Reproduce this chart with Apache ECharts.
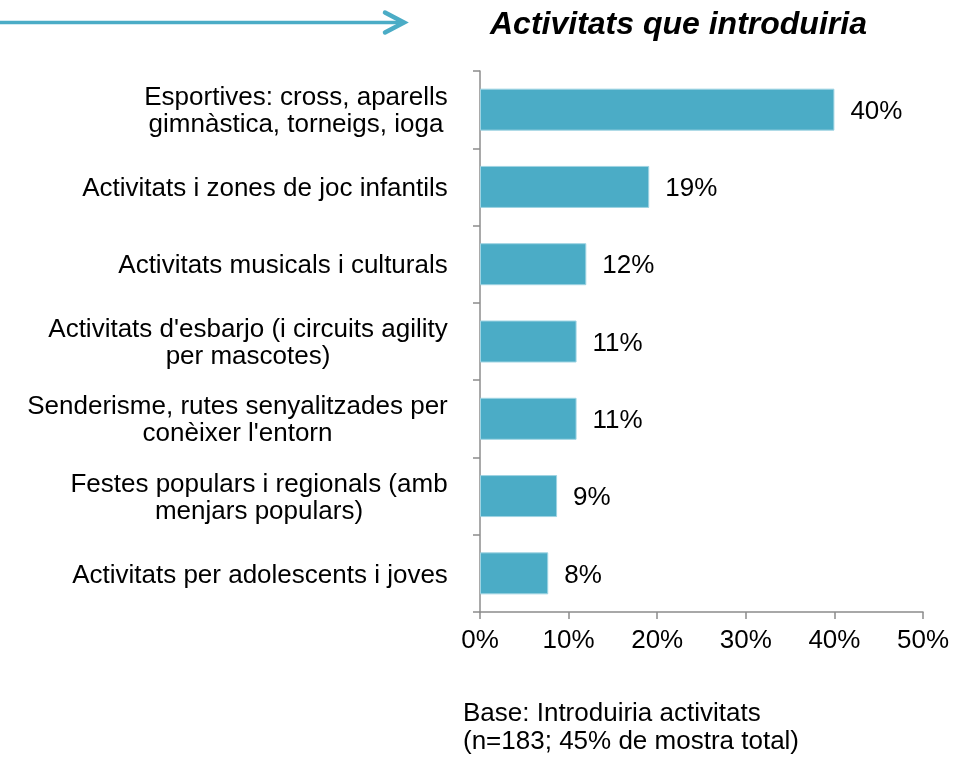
<!DOCTYPE html>
<html>
<head>
<meta charset="utf-8">
<script src="https://cdn.jsdelivr.net/npm/echarts@6/dist/echarts.min.js"></script>
<style>
  html, body { margin: 0; padding: 0; background: #fff; }
  #chart { width: 961px; height: 759px; }
</style>
</head>
<body>
<div id="chart"></div>
<script>
// dades del gràfic
const categories = [
    'Esportives: cross, aparells\ngimnàstica, torneigs, ioga',
    'Activitats i zones de joc infantils',
    'Activitats musicals i culturals',
    "Activitats d'esbarjo (i circuits agility\nper mascotes)",
    'Senderisme, rutes senyalitzades per\nconèixer l\'entorn',
    'Festes populars i regionals (amb\nmenjars populars)',
    'Activitats per adolescents i joves'
];
const values = [40.0, 19.1, 12.0, 10.9, 10.9, 8.7, 7.7];
const xTicks = [0, 10, 20, 30, 40, 50];
const titleText = 'Activitats que introduiria';
const baseText = ['Base: Introduiria activitats', '(n=183; 45% de mostra total)'];

const FONT = '"Liberation Sans", Arial, sans-serif';
const barColor = '#4BACC6';
const axisColor = '#8c8c8c';

// mesura de les etiquetes per centrar les línies dins del bloc
const ctx = document.createElement('canvas').getContext('2d');
ctx.font = '26px ' + FONT;
const rich = {};
categories.forEach((c, i) => {
    const lines = c.split('\n');
    const w = Math.max(...lines.map(l => ctx.measureText(l).width));
    rich['c' + i] = {
        width: Math.ceil(w), align: 'center',
        fontSize: 26, lineHeight: 27, fontFamily: FONT, color: '#000'
    };
});

const chart = echarts.init(document.getElementById('chart'));
chart.setOption({
    animation: false,
    title: {
        text: titleText,
        left: 485, top: 4,
        textStyle: { fontFamily: FONT, fontSize: 32, fontWeight: 'bold', fontStyle: 'italic', color: '#000' }
    },
    grid: { left: 480, right: 38, top: 71, bottom: 147, outerBoundsMode: 'none' },
    xAxis: {
        type: 'value',
        min: xTicks[0], max: xTicks[xTicks.length - 1], interval: xTicks[1] - xTicks[0],
        axisLine: { show: true, lineStyle: { color: axisColor, width: 1.5 } },
        axisTick: { show: true, length: 7, lineStyle: { color: axisColor, width: 1.5 } },
        splitLine: { show: false },
        axisLabel: { formatter: '{value}%', margin: 16, fontFamily: FONT, fontSize: 26, color: '#000' }
    },
    yAxis: {
        type: 'category',
        inverse: true,
        data: categories,
        axisLine: { show: true, lineStyle: { color: axisColor, width: 1.5 } },
        axisTick: { show: true, length: 7, lineStyle: { color: axisColor, width: 1.5 } },
        axisLabel: {
            margin: 32,
            padding: [4, 0, 0, 0],
            formatter: (value, index) => value.split('\n').map(l => '{c' + index + '|' + l + '}').join('\n'),
            rich: rich
        }
    },
    series: [{
        type: 'bar',
        data: values,
        barWidth: 42,
        itemStyle: { color: barColor, borderColor: '#9fd4e3', borderWidth: 1 },
        label: {
            show: true, position: 'right', distance: 16, offset: [0, 2],
            formatter: p => Math.round(p.value) + '%',
            fontFamily: FONT, fontSize: 26, color: '#000'
        }
    }],
    graphic: [
        { type: 'line', shape: { x1: 0, y1: 22.5, x2: 403, y2: 22.5 },
          style: { stroke: barColor, lineWidth: 3.5 } },
        { type: 'polyline', shape: { points: [[385, 12.5], [404, 22.5], [385, 32.5]] },
          style: { stroke: barColor, lineWidth: 4.5, lineCap: 'round', lineJoin: 'miter', fill: null } },
        { type: 'text', left: 463, top: 700,
          style: { text: baseText.join('\n'), font: '26px ' + FONT, lineHeight: 28, fill: '#000' } }
    ]
});
</script>
</body>
</html>
